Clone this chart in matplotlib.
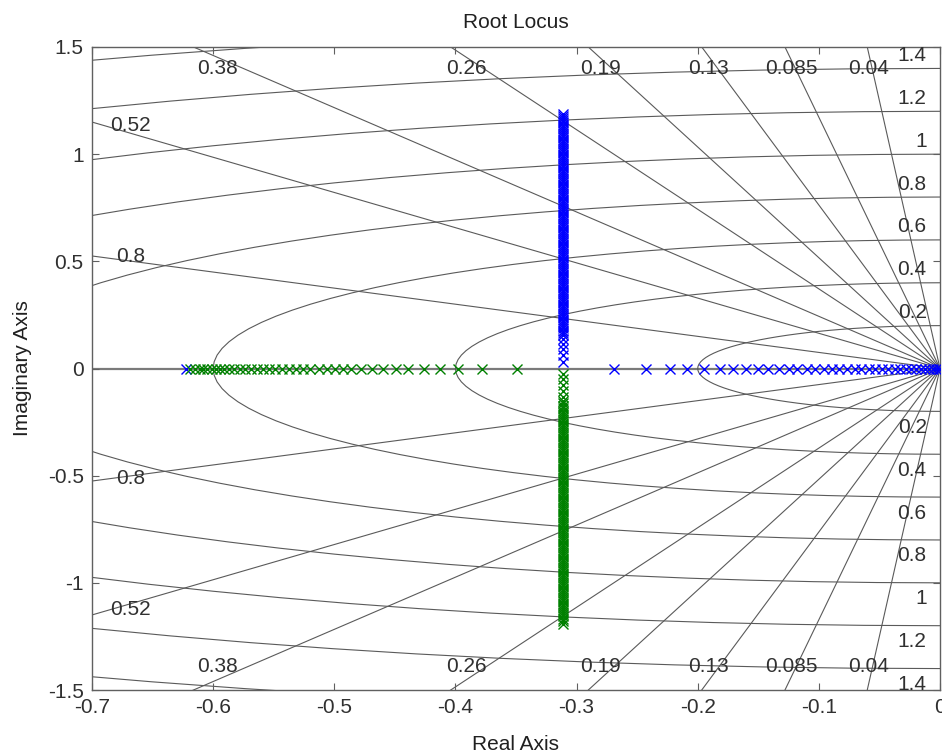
import numpy as np
import matplotlib
matplotlib.use("Agg")
import matplotlib.pyplot as plt

plt.rcParams["font.family"] = ["Liberation Sans", "DejaVu Sans"]
plt.rcParams["axes.unicode_minus"] = False

# sgrid: damping ratios and natural frequencies
zeta = [0.04, 0.085, 0.13, 0.19, 0.26, 0.38, 0.52, 0.8]
wn = [0.2, 0.4, 0.6, 0.8, 1.0, 1.2, 1.4, 1.6]
wn_labels = ["0.2", "0.4", "0.6", "0.8", "1", "1.2", "1.4"]
zeta_labels = ["0.04", "0.085", "0.13", "0.19", "0.26", "0.38", "0.52", "0.8"]

# root locus points
x_break = -0.311
blue_real_x = [-0.622, -0.269, -0.243, -0.223, -0.209, -0.195, -0.182, -0.171, -0.160, -0.150,
               -0.142, -0.133, -0.125, -0.118, -0.110, -0.103, -0.096, -0.089, -0.083, -0.077,
               -0.070, -0.065, -0.059, -0.054, -0.048, -0.043, -0.037, -0.033, -0.028, -0.024,
               -0.020, -0.016, -0.012, -0.009, -0.006, -0.003, -0.001, 0.0]
green_real_x = [-0.619, -0.615, -0.611, -0.608, -0.605, -0.601, -0.598, -0.594, -0.591, -0.587,
                -0.583, -0.578, -0.574, -0.569, -0.564, -0.559, -0.554, -0.549, -0.543, -0.537,
                -0.532, -0.526, -0.520, -0.513, -0.506, -0.499, -0.493, -0.486, -0.478, -0.469,
                -0.460, -0.449, -0.439, -0.426, -0.413, -0.398, -0.378, -0.349]
blue_vert_y = [0.029, 0.061, 0.092, 0.115, 0.139, 0.154, 0.166, 0.177, 0.188, 0.198,
               0.208, 0.218, 0.228, 0.238, 0.248, 0.258, 0.268, 0.278, 0.288, 0.298,
               0.308, 0.318, 0.328, 0.338, 0.348, 0.358, 0.368, 0.378, 0.388, 0.398,
               0.408, 0.418, 0.428, 0.438, 0.448, 0.458, 0.468, 0.478, 0.488, 0.498,
               0.508, 0.518, 0.528, 0.538, 0.548, 0.558, 0.568, 0.578, 0.588, 0.598,
               0.608, 0.618, 0.628, 0.638, 0.648, 0.658, 0.668, 0.678, 0.688, 0.698,
               0.708, 0.718, 0.728, 0.738, 0.748, 0.758, 0.768, 0.778, 0.788, 0.798,
               0.808, 0.818, 0.828, 0.838, 0.848, 0.858, 0.868, 0.878, 0.888, 0.898,
               0.908, 0.918, 0.928, 0.938, 0.948, 0.958, 0.968, 0.978, 0.988, 0.998,
               1.008, 1.018, 1.028, 1.038, 1.048, 1.058, 1.068, 1.078, 1.088, 1.098,
               1.108, 1.118, 1.128, 1.138, 1.148, 1.158, 1.168, 1.178, 1.188]
green_vert_y = [-0.025, -0.048, -0.079, -0.103, -0.134, -0.150, -0.163, -0.175, -0.186, -0.197,
                -0.207, -0.217, -0.227, -0.237, -0.247, -0.257, -0.267, -0.277, -0.287, -0.297,
                -0.307, -0.317, -0.327, -0.337, -0.347, -0.357, -0.367, -0.377, -0.387, -0.397,
                -0.407, -0.417, -0.427, -0.437, -0.447, -0.457, -0.467, -0.477, -0.487, -0.497,
                -0.507, -0.517, -0.527, -0.537, -0.547, -0.557, -0.567, -0.577, -0.587, -0.597,
                -0.607, -0.617, -0.627, -0.637, -0.647, -0.657, -0.667, -0.677, -0.687, -0.697,
                -0.707, -0.717, -0.727, -0.737, -0.747, -0.757, -0.767, -0.777, -0.787, -0.797,
                -0.807, -0.817, -0.827, -0.837, -0.847, -0.857, -0.867, -0.877, -0.887, -0.897,
                -0.907, -0.917, -0.927, -0.937, -0.947, -0.957, -0.967, -0.977, -0.987, -0.997,
                -1.007, -1.017, -1.027, -1.037, -1.047, -1.057, -1.067, -1.077, -1.087, -1.097,
                -1.107, -1.117, -1.127, -1.137, -1.147, -1.157, -1.167, -1.177, -1.190]

xticks = [-0.7, -0.6, -0.5, -0.4, -0.3, -0.2, -0.1, 0]
xticklabels = ["-0.7", "-0.6", "-0.5", "-0.4", "-0.3", "-0.2", "-0.1", "0"]
yticks = [-1.5, -1, -0.5, 0, 0.5, 1, 1.5]
yticklabels = ["-1.5", "-1", "-0.5", "0", "0.5", "1", "1.5"]

# where MATLAB put the damping labels (layout only)
zeta_top_x = {0.04: -0.059, 0.085: -0.123, 0.13: -0.1915, 0.19: -0.280, 0.26: -0.391, 0.38: -0.596}
zeta_left_y = {0.52: 1.135, 0.8: 0.522}

GRID = "#5a5a5a"
TXT = "#303030"

fig = plt.figure(figsize=(9.42, 7.56), dpi=100)
ax = fig.add_axes([92 / 942, 66 / 756, 848 / 942, 643 / 756])

# damping ratio rays
R = 3.0
for z in zeta:
    s = np.sqrt(1 - z ** 2)
    ax.plot([0, -R * z], [0, R * s], color=GRID, lw=0.8, zorder=1)
    ax.plot([0, -R * z], [0, -R * s], color=GRID, lw=0.8, zorder=1)
ax.axhline(0, color="#7a7a7a", lw=1.6, zorder=1)

# natural frequency circles (coarse polygons like sgrid)
th = np.deg2rad(np.arange(90, 271, 3))
for w in wn:
    ax.plot(w * np.cos(th), w * np.sin(th), color=GRID, lw=0.8, zorder=1)

# labels
fs = 15
for w, lab in zip(wn, wn_labels):
    ax.text(-0.011, w + 0.035, lab, ha="right", va="baseline", fontsize=fs, color=TXT, clip_on=True)
    ax.text(-0.011, -w - 0.03, lab, ha="right", va="top", fontsize=fs, color=TXT, clip_on=True)
for z, lab in zip(zeta, zeta_labels):
    if z in zeta_top_x:
        ax.text(zeta_top_x[z], 1.40, lab, ha="center", va="center", fontsize=fs, color=TXT, clip_on=True)
        ax.text(zeta_top_x[z], -1.39, lab, ha="center", va="center", fontsize=fs, color=TXT, clip_on=True)
    else:
        ax.text(-0.668, zeta_left_y[z], lab, ha="center", va="center", fontsize=fs, color=TXT, clip_on=True)
        ax.text(-0.668, -zeta_left_y[z] + 0.01, lab, ha="center", va="center", fontsize=fs, color=TXT, clip_on=True)

# locus branches
mk = dict(ls="none", marker="x", ms=6.5, mew=1.0, zorder=3)
ax.plot(blue_real_x, np.zeros(len(blue_real_x)), color="blue", **mk)
ax.plot(np.full(len(blue_vert_y), x_break), blue_vert_y, color="blue", **mk)
ax.plot(green_real_x, np.zeros(len(green_real_x)), color="green", **mk)
ax.plot(np.full(len(green_vert_y), x_break), green_vert_y, color="green", **mk)

ax.set_xlim(-0.7, 0)
ax.set_ylim(-1.5, 1.5)
ax.set_xticks(xticks)
ax.set_xticklabels(xticklabels)
ax.set_yticks(yticks)
ax.set_yticklabels(yticklabels)
ax.tick_params(direction="in", top=True, right=True, length=5, width=0.8,
               color="#606060", labelcolor=TXT, labelsize=fs, pad=6)
for sp in ax.spines.values():
    sp.set_color("#606060")
    sp.set_linewidth(1.0)

ax.set_title("Root Locus", fontsize=fs, color="#202020", pad=14)
ax.set_xlabel("Real Axis", fontsize=fs, color="#202020", labelpad=13)
ax.set_ylabel("Imaginary Axis", fontsize=fs, color="#202020", labelpad=11)

fig.savefig("out.png", dpi=100)
